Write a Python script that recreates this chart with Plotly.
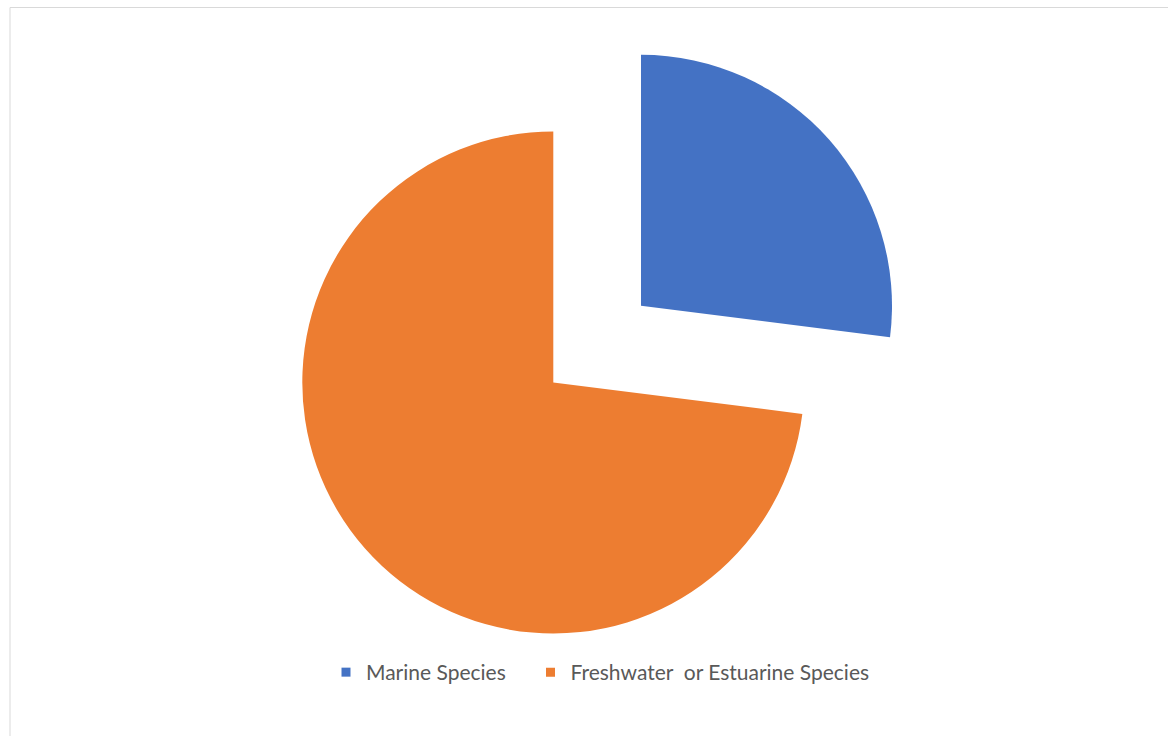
import plotly.graph_objects as go

# Share of species by habitat
categories = ["Marine Species", "Freshwater\u00a0 or Estuarine Species"]
shares = [27, 73]
colors = ["#4472C4", "#ED7D31"]
clear = "rgba(0,0,0,0)"

W, H = 1168, 736

def dom(cx, cy, r):
    """Square pie domain (paper fractions) for a centre/radius given in pixels."""
    return dict(x=[(cx - r) / W, (cx + r) / W],
                y=[(H - cy - r) / H, (H - cy + r) / H])

fig = go.Figure()

# Main body of the pie (freshwater slice); the marine slice is drawn exploded below
fig.add_trace(go.Pie(
    labels=categories, values=shares, sort=False, direction="clockwise", rotation=0,
    marker=dict(colors=[clear, colors[1]], line=dict(width=0)),
    textinfo="none", hoverinfo="label+percent", showlegend=False,
    domain=dom(553.3, 382.5, 251),
))

# Exploded marine slice
fig.add_trace(go.Pie(
    labels=categories, values=shares, sort=False, direction="clockwise", rotation=0,
    marker=dict(colors=[colors[0], clear], line=dict(width=0)),
    textinfo="none", hoverinfo="label+percent", showlegend=False,
    domain=dom(641, 305.8, 251),
))

# Legend entries, one legend box per category so each sits where wanted
legend_names = ["legend", "legend2"]
legend_left = [326, 530.5]
for name, col, lg in zip(categories, colors, legend_names):
    fig.add_trace(go.Scatter(
        x=[None], y=[None], mode="markers", name=name, legend=lg,
        marker=dict(symbol="square", size=9, color=col),
    ))

legend_style = dict(
    orientation="h", xanchor="left",
    y=(H - 672.5) / H, yanchor="middle",
    font=dict(family="Lato", size=21, color="#595959"),
    bgcolor="rgba(0,0,0,0)",
)

fig.update_layout(
    width=W, height=H,
    margin=dict(l=0, r=0, t=0, b=0),
    paper_bgcolor="white", plot_bgcolor="white",
    xaxis=dict(visible=False), yaxis=dict(visible=False),
    showlegend=True,
    legend=dict(x=legend_left[0] / W, **legend_style),
    legend2=dict(x=legend_left[1] / W, **legend_style),
    shapes=[dict(
        type="rect", xref="paper", yref="paper",
        x0=10 / W, x1=1.05, y0=-0.05, y1=(H - 7.5) / H,
        line=dict(color="#D9D9D9", width=1), fillcolor="rgba(0,0,0,0)", layer="below",
    )],
)

fig.write_html("out.html")
